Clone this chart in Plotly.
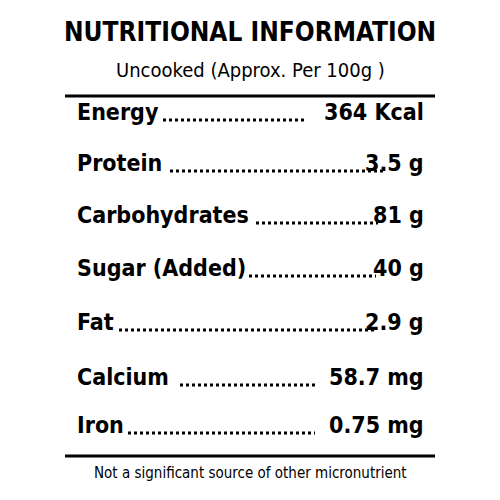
import plotly.graph_objects as go

title = "NUTRITIONAL INFORMATION"
subtitle = "Uncooked (Approx. Per 100g )"
nutrients = ["Energy", "Protein", "Carbohydrates", "Sugar (Added)", "Fat", "Calcium", "Iron"]
amounts = ["364 Kcal", "3.5 g", "81 g", "40 g", "2.9 g", "58.7 mg", "0.75 mg"]
footer = "Not a significant source of other micronutrient"

# layout: row baselines and dotted leader extents (pixels)
row_y = [112, 163, 215, 268, 322, 377, 425]
dot_x0 = [163, 170, 256, 249, 119, 180, 128]
dot_x1 = [307, 383, 378, 376, 376, 316, 315]

FONT = "Liberation Sans Narrow, DejaVu Sans Condensed, Arial Narrow, sans-serif"
DX, DY = -8, -8  # compensate rendered offset

fig = go.Figure()
fig.add_trace(go.Scatter(x=[0, 500], y=[0, 500], mode="markers", marker_opacity=0,
                         hoverinfo="skip", showlegend=False))

ann = [
    dict(x=250, y=32, text="<b>" + title + "</b>", font=dict(size=26)),
    dict(x=250, y=70, text=subtitle, font=dict(size=20)),
    dict(x=250, y=473, text=footer, font=dict(size=15)),
]
for name, val, y in zip(nutrients, amounts, row_y):
    ann.append(dict(x=75, y=y, text="<b>" + name + "</b>", xanchor="left", font=dict(size=23)))
    ann.append(dict(x=426, y=y, text="<b>" + val + "</b>", xanchor="right", font=dict(size=23)))
for a in ann:
    a.setdefault("xanchor", "center")
    a["x"] += DX
    a["y"] += DY
    a.update(xref="x", yref="y", showarrow=False, yanchor="middle")
    a["font"].update(family=FONT, color="black")

shapes = [
    dict(type="line", x0=65, x1=435, y0=96, y1=96, line=dict(color="black", width=3)),
    dict(type="line", x0=65, x1=435, y0=456, y1=456, line=dict(color="black", width=3)),
]
for y, a, b in zip(row_y, dot_x0, dot_x1):
    shapes.append(dict(type="line", x0=a, x1=b, y0=y + 8, y1=y + 8,
                       line=dict(color="black", width=3, dash="dot")))
for s in shapes:
    s.update(xref="x", yref="y", x0=s["x0"] + DX, x1=s["x1"] + DX,
             y0=s["y0"] + DY, y1=s["y1"] + DY)

fig.update_layout(
    width=500, height=500, margin=dict(l=0, r=0, t=0, b=0),
    paper_bgcolor="white", plot_bgcolor="white",
    xaxis=dict(range=[0, 500], visible=False),
    yaxis=dict(range=[500, 0], visible=False),
    annotations=ann, shapes=shapes,
)
fig.write_html("out.html")
